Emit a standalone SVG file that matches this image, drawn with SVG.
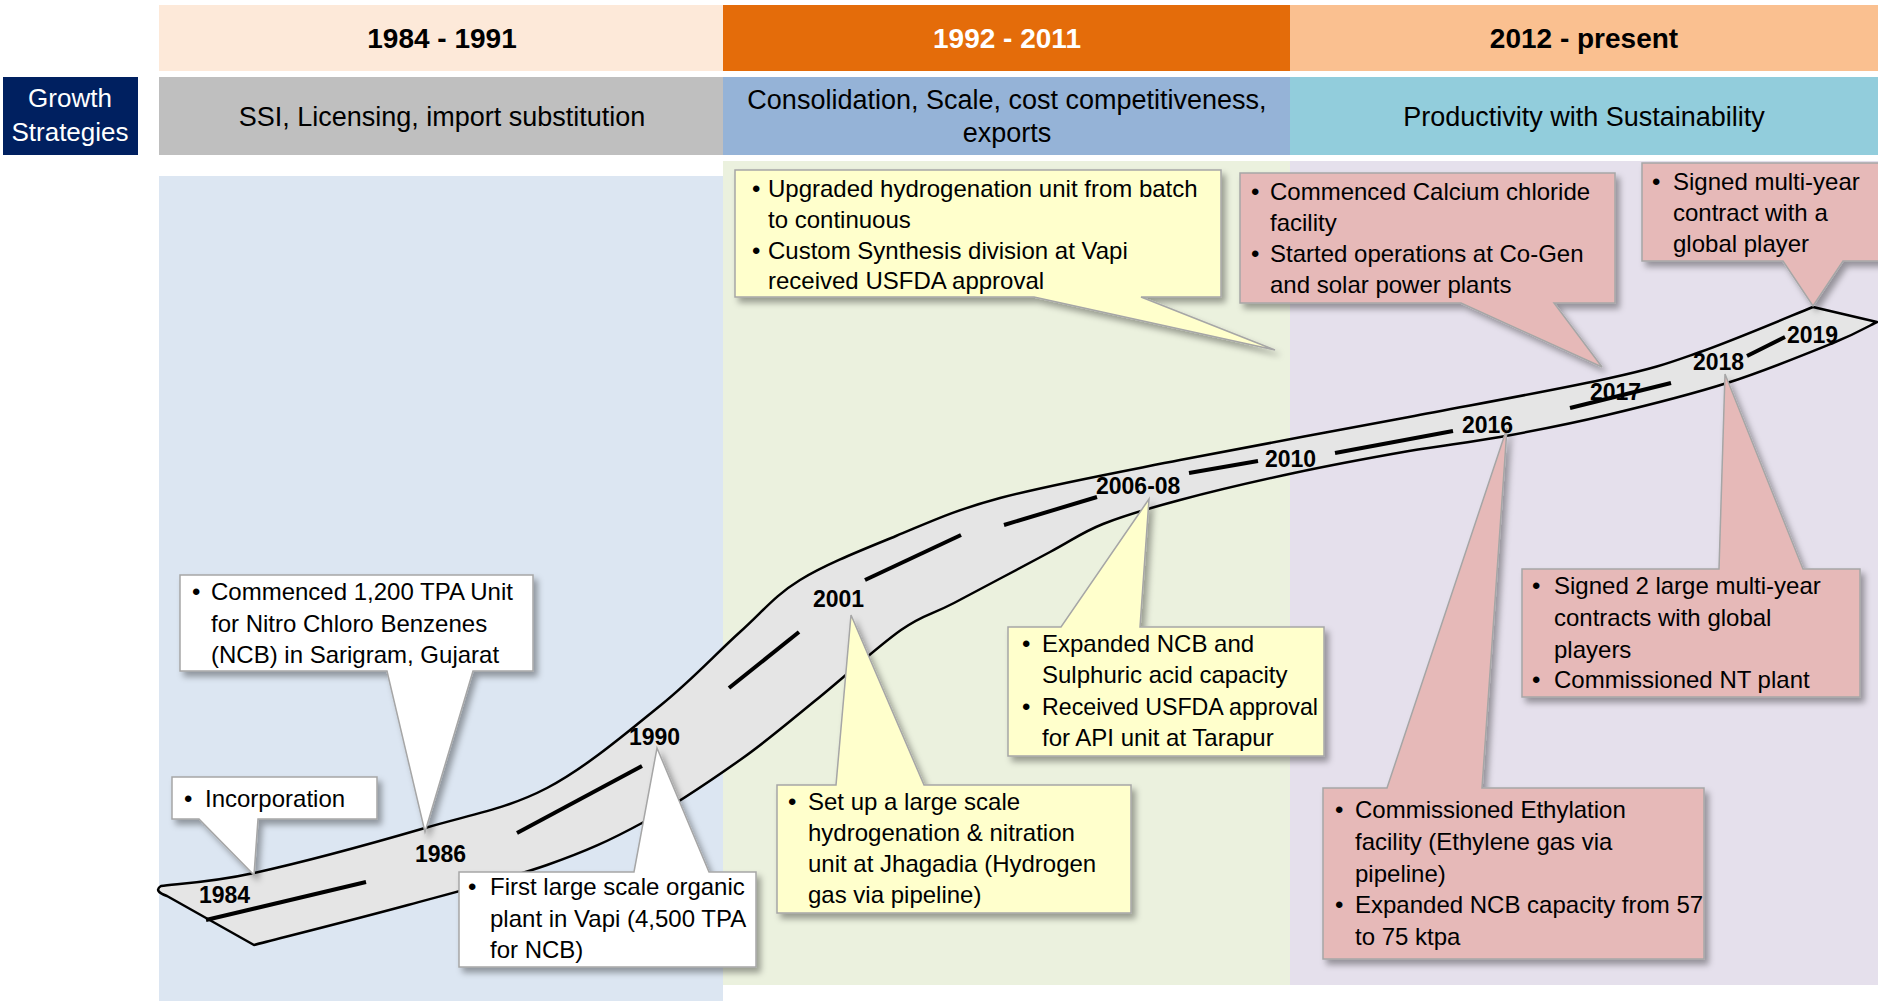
<svg xmlns="http://www.w3.org/2000/svg" width="1878" height="1001" viewBox="0 0 1878 1001">
<defs>
<filter id="sh" x="-10%" y="-10%" width="130%" height="140%">
<feDropShadow dx="4" dy="5" stdDeviation="3" flood-color="#000" flood-opacity="0.35"/>
</filter>
<style>
text{font-family:'Liberation Sans',Arial,sans-serif}
.hdr{font-size:28px;font-weight:bold;text-anchor:middle}
.st{font-size:27px;text-anchor:middle;fill:#000}
.gs{font-size:26px;text-anchor:middle;fill:#fff}
.co{font-size:24px;fill:#000}
.yr{font-size:23px;font-weight:bold;fill:#000}
.cw{fill:#fff;stroke:#A6A6A6;stroke-width:1.5;filter:url(#sh)}
.cy{fill:#FFFFCC;stroke:#A6A6A6;stroke-width:1.5;filter:url(#sh)}
.cp{fill:#E6B9B8;stroke:#A6A6A6;stroke-width:1.5;filter:url(#sh)}
.road{fill:#E5E5E5;stroke:#000;stroke-width:2.5;stroke-linejoin:round}
.dash{stroke:#000;stroke-width:4;fill:none}
</style>
</defs>
<rect width="1878" height="1001" fill="#fff"/>
<g id="panels">
<rect x="159" y="176" width="564" height="825" fill="#DCE6F2"/>
<rect x="723" y="161" width="567" height="824" fill="#EBF1DE"/>
<rect x="1290" y="161" width="588" height="824" fill="#E5E0EC"/>
</g>
<g id="header">
<rect x="159" y="5" width="564" height="66" fill="#FDE9D9"/>
<rect x="723" y="5" width="567" height="66" fill="#E46C0A"/>
<rect x="1290" y="5" width="588" height="66" fill="#FAC090"/>
<text class="hdr" x="442" y="48" fill="#000">1984 - 1991</text>
<text class="hdr" x="1007" y="48" fill="#fff">1992 - 2011</text>
<text class="hdr" x="1584" y="48" fill="#000">2012 - present</text>
</g>
<g id="strategies">
<rect x="3" y="77" width="135" height="78" fill="#002060"/>
<text class="gs" x="70" y="107">Growth</text>
<text class="gs" x="70" y="141">Strategies</text>
<rect x="159" y="77" width="564" height="78" fill="#BFBFBF"/>
<rect x="723" y="77" width="567" height="78" fill="#95B3D7"/>
<rect x="1290" y="77" width="588" height="78" fill="#92CDDC"/>
<text class="st" x="442" y="126">SSI, Licensing, import substitution</text>
<text class="st" x="1007" y="109">Consolidation, Scale, cost competitiveness,</text>
<text class="st" x="1007" y="142">exports</text>
<text class="st" x="1584" y="126">Productivity with Sustainability</text>
</g>
<g id="timeline">
<path class="road" d="M161,886 C176.5,883.8 210,882.7 254,873 C298,863.3 376.2,842.2 425,828 C473.8,813.8 507.7,808.5 547,788 C586.3,767.5 628.8,731 661,705 C693.2,679 716.8,652.8 740,632 C763.2,611.2 774,596 800,580 C826,564 862.7,549.7 896,536 C929.3,522.3 952.7,510.7 1000,498 C1047.3,485.3 1111.8,473.5 1180,460 C1248.2,446.5 1337.3,430.7 1409,417 C1480.7,403.3 1561.5,388.8 1610,378 C1658.5,367.2 1666.2,363.8 1700,352 C1733.8,340.2 1794.2,314.5 1813,307 L1877,322 C1869.7,325.5 1858,332.8 1833,343 C1808,353.2 1764.7,371 1727,383 C1689.3,395 1644.8,406 1607,415 C1569.2,424 1533,431 1500,437 C1467,443 1443.3,445 1409,451 C1374.7,457 1332.2,464.8 1294,473 C1255.8,481.2 1211.8,491.5 1180,500 C1148.2,508.5 1124.7,515.3 1103,524 C1081.3,532.7 1074.8,538.8 1050,552 C1025.2,565.2 978.8,590 954,603 C929.2,616 924,613.8 901,630 C878,646.2 842.8,678.3 816,700 C789.2,721.7 769,739.5 740,760 C711,780.5 674.2,805.5 642,823 C609.8,840.5 586,851.3 547,865 C508,878.7 456.8,891.7 408,905 C359.2,918.3 279.7,938.3 254,945 L167,896 Q153,891 161,886 Z"/>
<g class="dash">
<line x1="206" y1="920" x2="366" y2="882"/>
<line x1="517" y1="833" x2="642" y2="766"/>
<line x1="729" y1="688" x2="799" y2="632"/>
<line x1="865" y1="580" x2="961" y2="535"/>
<line x1="1004" y1="525" x2="1097" y2="497"/>
<line x1="1189" y1="473" x2="1258" y2="461"/>
<line x1="1335" y1="453" x2="1453" y2="431"/>
<line x1="1570" y1="408" x2="1671" y2="383"/>
<line x1="1747" y1="356" x2="1785" y2="337"/>
</g>
</g>
<g id="c-incorporation">
<path class="cw" d="M172,777 H377 V819 H258 L254,875 L199,819 H172 Z"/>
<text class="co" x="184" y="807">•</text>
<text class="co" x="205" y="807">Incorporation</text>
</g>
<g id="c-1986">
<path class="cw" d="M180,575 H533 V671 H473 L425,832 L387,671 H180 Z"/>
<text class="co" x="192" y="600">•</text>
<text class="co" x="211" y="600">Commenced 1,200 TPA Unit</text>
<text class="co" x="211" y="632">for Nitro Chloro Benzenes</text>
<text class="co" x="211" y="663">(NCB) in Sarigram, Gujarat</text>
</g>
<g id="c-1990">
<path class="cw" d="M459,872 H634 L657,748 L709,872 H756 V967 H459 Z"/>
<text class="co" x="468" y="895">•</text>
<text class="co" x="490" y="895">First large scale organic</text>
<text class="co" x="490" y="927">plant in Vapi (4,500 TPA</text>
<text class="co" x="490" y="958">for NCB)</text>
</g>
<g id="c-2001">
<path class="cy" d="M777,785 H836 L851,615 L924,785 H1131 V913 H777 Z"/>
<text class="co" x="788" y="810">•</text>
<text class="co" x="808" y="810">Set up a large scale</text>
<text class="co" x="808" y="841">hydrogenation &amp; nitration</text>
<text class="co" x="808" y="872">unit at Jhagadia (Hydrogen</text>
<text class="co" x="808" y="903">gas via pipeline)</text>
</g>
<g id="c-2006">
<path class="cy" d="M1008,627 H1061 L1149,499 L1140,627 H1324 V756 H1008 Z"/>
<text class="co" x="1022" y="652">•</text>
<text class="co" x="1042" y="652">Expanded NCB and</text>
<text class="co" x="1042" y="683">Sulphuric acid capacity</text>
<text class="co" x="1022" y="715">•</text>
<text class="co" x="1042" y="715" textLength="276" lengthAdjust="spacingAndGlyphs">Received USFDA approval</text>
<text class="co" x="1042" y="746">for API unit at Tarapur</text>
</g>
<g id="c-2010">
<path class="cy" d="M735,170 H1221 V297 H1141 L1275,350 L1034,297 H735 Z"/>
<text class="co" x="752" y="197">•</text>
<text class="co" x="768" y="197">Upgraded hydrogenation unit from batch</text>
<text class="co" x="768" y="228">to continuous</text>
<text class="co" x="752" y="259">•</text>
<text class="co" x="768" y="259">Custom Synthesis division at Vapi</text>
<text class="co" x="768" y="289">received USFDA approval</text>
</g>
<g id="c-2017">
<path class="cp" d="M1240,173 H1615 V303 H1554 L1602,367 L1461,303 H1240 Z"/>
<text class="co" x="1251" y="200">•</text>
<text class="co" x="1270" y="200">Commenced Calcium chloride</text>
<text class="co" x="1270" y="231">facility</text>
<text class="co" x="1251" y="262">•</text>
<text class="co" x="1270" y="262">Started operations at Co-Gen</text>
<text class="co" x="1270" y="293">and solar power plants</text>
</g>
<g id="c-2019">
<path class="cp" d="M1642,163 H1890 V261 H1843 L1813,306 L1783,261 H1642 Z"/>
<text class="co" x="1652" y="190">•</text>
<text class="co" x="1673" y="190">Signed multi-year</text>
<text class="co" x="1673" y="221">contract with a</text>
<text class="co" x="1673" y="252">global player</text>
</g>
<g id="c-2018">
<path class="cp" d="M1522,569 H1719 L1725,374 L1803,569 H1860 V697 H1522 Z"/>
<text class="co" x="1532" y="594">•</text>
<text class="co" x="1554" y="594">Signed 2 large multi-year</text>
<text class="co" x="1554" y="626">contracts with global</text>
<text class="co" x="1554" y="658">players</text>
<text class="co" x="1532" y="688">•</text>
<text class="co" x="1554" y="688">Commissioned NT plant</text>
</g>
<g id="c-2016">
<path class="cp" d="M1323,788 H1387 L1507,428 L1482,788 H1704 V959 H1323 Z"/>
<text class="co" x="1335" y="818">•</text>
<text class="co" x="1355" y="818">Commissioned Ethylation</text>
<text class="co" x="1355" y="850">facility (Ethylene gas via</text>
<text class="co" x="1355" y="882">pipeline)</text>
<text class="co" x="1335" y="913">•</text>
<text class="co" x="1355" y="913">Expanded NCB capacity from 57</text>
<text class="co" x="1355" y="945">to 75 ktpa</text>
</g>
<g id="year-labels">
<text class="yr" x="199" y="903">1984</text>
<text class="yr" x="415" y="862">1986</text>
<text class="yr" x="629" y="745">1990</text>
<text class="yr" x="813" y="607">2001</text>
<text class="yr" x="1096" y="494">2006-08</text>
<text class="yr" x="1265" y="467">2010</text>
<text class="yr" x="1462" y="433">2016</text>
<text class="yr" x="1590" y="400">2017</text>
<text class="yr" x="1693" y="370">2018</text>
<text class="yr" x="1787" y="343">2019</text>
</g>
</svg>
